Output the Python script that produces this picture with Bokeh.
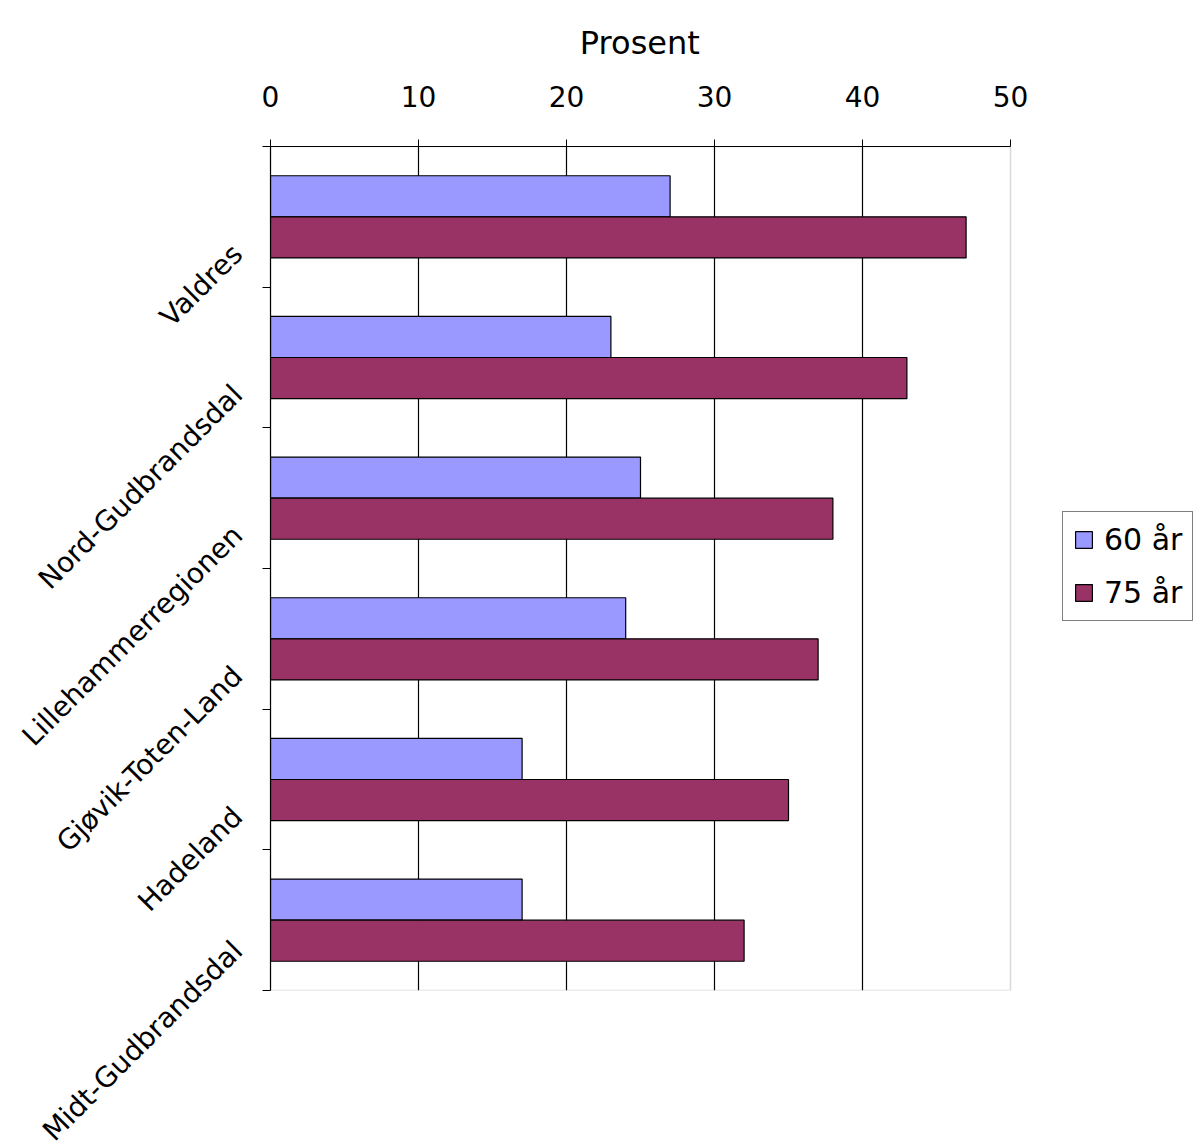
import math
from bokeh.plotting import figure
from bokeh.models import (Range1d, LinearAxis, FixedTicker, Legend, BoxAnnotation,
                          LegendItem, Grid, ColumnDataSource)
from bokeh.transform import dodge
from bokeh.embed import file_html
from bokeh.resources import INLINE

# ---- data ----
regions = ["Valdres", "Nord-Gudbrandsdal", "Lillehammerregionen",
           "Gjøvik-Toten-Land", "Hadeland", "Midt-Gudbrandsdal"]
age60 = [27, 23, 25, 24, 17, 17]
age75 = [47, 43, 38, 37, 35, 32]
series_labels = ["60 år", "75 år"]
x_ticks = [0, 10, 20, 30, 40, 50]
x_title = "Prosent"

# ---- style ----
FONT = "DejaVu Sans"
W, H = 1196, 1147
FRAME_LEFT, PLOT_RIGHT, FRAME_TOP, FRAME_BOTTOM = 270, 1010, 143, 990
C60, C75 = "#9999FF", "#993366"
LABEL_SHIFT = 0.23   # Excel draws rotated category labels a bit below centre
BAR_H = 0.292
BAR_OFF = 0.146
TITLE_PX = 32
TITLE_W = 3.79 * TITLE_PX   # approx. rendered width of the axis title

n = len(regions)
# category slot centres, first region at the top
pos = [n - i - 0.5 for i in range(n)]
src = ColumnDataSource(dict(region=regions, pos=pos, a60=age60, a75=age75))

# frame runs to the right edge so the legend can sit outside the plot area
x_end = x_ticks[-1] * (W - FRAME_LEFT) / (PLOT_RIGHT - FRAME_LEFT)

p = figure(width=W, height=H, output_backend="svg", toolbar_location=None,
           y_range=Range1d(0, n),
           x_range=Range1d(x_ticks[0], x_end),
           x_axis_location=None, y_axis_location=None,
           min_border_left=FRAME_LEFT, min_border_right=0,
           min_border_top=FRAME_TOP, min_border_bottom=H - FRAME_BOTTOM)
p.grid.visible = False
p.outline_line_color = None
p.background_fill_color = "white"
p.border_fill_color = "white"

# axis title, centred over the 0-50 plot area
p.title.text = x_title
p.title.align = "left"
p.title.offset = (PLOT_RIGHT - FRAME_LEFT) / 2 - TITLE_W / 2
p.title.text_font = FONT
p.title.text_font_size = f"{TITLE_PX}px"
p.title.text_font_style = "normal"
p.title.text_color = "black"
p.title.standoff = 42

# vertical gridlines
p.add_layout(Grid(dimension=0, ticker=FixedTicker(ticks=x_ticks[1:-1]),
                  grid_line_color="black", grid_line_width=1.2, level="underlay"))

# gray plot-area border
p.add_layout(BoxAnnotation(left=x_ticks[0], right=x_ticks[-1], bottom=0, top=n,
                           fill_alpha=0, line_color="#808080", line_width=1.5,
                           level="underlay"))

# bars
r60 = p.hbar(y=dodge("pos", BAR_OFF), left=0, right="a60",
             height=BAR_H, fill_color=C60, line_color="black", line_width=1.2,
             source=src)
r75 = p.hbar(y=dodge("pos", -BAR_OFF), left=0, right="a75",
             height=BAR_H, fill_color=C75, line_color="black", line_width=1.2,
             source=src)

# top value axis
xaxis = LinearAxis(ticker=FixedTicker(ticks=x_ticks, minor_ticks=[]),
                   bounds=(x_ticks[0], x_ticks[-1]))
xaxis.axis_line_color = "black"
xaxis.axis_line_width = 1.2
xaxis.major_tick_line_color = "black"
xaxis.major_tick_out = 7
xaxis.major_tick_in = 0
xaxis.minor_tick_line_color = None
xaxis.major_label_text_font = FONT
xaxis.major_label_text_font_size = "28px"
xaxis.major_label_text_color = "black"
xaxis.major_label_standoff = 33
p.add_layout(xaxis, "above")

# left category axis: ticks at category boundaries, labels rotated 45 deg
label_pos = [c - LABEL_SHIFT for c in pos]
yaxis = LinearAxis(ticker=FixedTicker(ticks=label_pos, minor_ticks=list(range(n + 1))),
                   major_label_overrides={lp: name for lp, name in zip(label_pos, regions)})
yaxis.axis_line_color = "black"
yaxis.axis_line_width = 1.2
yaxis.major_tick_line_color = None
yaxis.major_tick_out = 0
yaxis.major_tick_in = 0
yaxis.minor_tick_line_color = "black"
yaxis.minor_tick_out = 8
yaxis.minor_tick_in = 0
yaxis.major_label_orientation = math.pi / 4
yaxis.major_label_standoff = 25
yaxis.major_label_text_font = FONT
yaxis.major_label_text_font_size = "28px"
yaxis.major_label_text_color = "black"
p.add_layout(yaxis, "left")

# legend (outside the plot area, right)
legend = Legend(items=[LegendItem(label=series_labels[0], renderers=[r60]),
                       LegendItem(label=series_labels[1], renderers=[r75])],
                location=(1062 - FRAME_LEFT, FRAME_BOTTOM - 621))
legend.border_line_color = "black"
legend.border_line_width = 1.2
legend.background_fill_color = "white"
legend.background_fill_alpha = 1
legend.label_text_font = FONT
legend.label_text_font_size = "30px"
legend.label_text_color = "black"
legend.glyph_width = 21
legend.glyph_height = 21
legend.label_standoff = 10
legend.padding = 10
legend.spacing = 18
legend.margin = 0
p.add_layout(legend, "center")

open("out.html", "w").write(file_html(p, INLINE))
